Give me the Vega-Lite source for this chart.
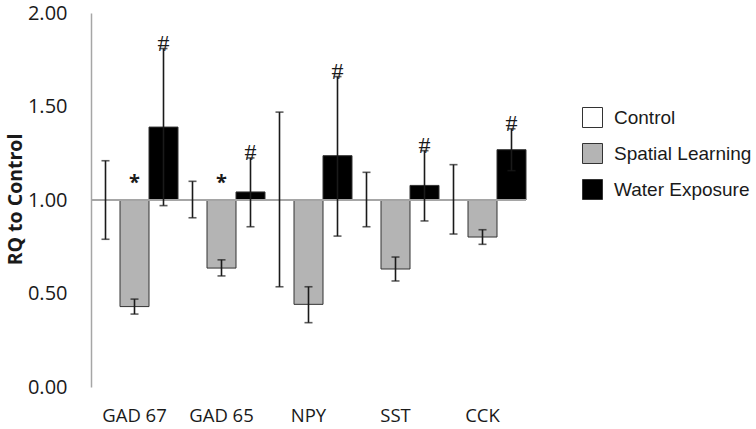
{
  "$schema": "https://vega.github.io/schema/vega-lite/v6.json",
  "width": 435,
  "height": 374,
  "autosize": {"type": "none"},
  "padding": {"left": 91, "top": 13, "right": 230, "bottom": 42},
  "background": "white",
  "config": {"view": {"stroke": null}},
  "data": {"values": [
    {"gene": "GAD 67", "group": "Control", "value": 1, "lo": 0.79, "hi": 1.21, "sig": ""},
    {"gene": "GAD 67", "group": "Spatial Learning", "value": 0.43, "lo": 0.39, "hi": 0.47, "sig": "*"},
    {"gene": "GAD 67", "group": "Water Exposure", "value": 1.39, "lo": 0.97, "hi": 1.81, "sig": "#"},
    {"gene": "GAD 65", "group": "Control", "value": 1, "lo": 0.905, "hi": 1.10, "sig": ""},
    {"gene": "GAD 65", "group": "Spatial Learning", "value": 0.636, "lo": 0.594, "hi": 0.68, "sig": "*"},
    {"gene": "GAD 65", "group": "Water Exposure", "value": 1.043, "lo": 0.857, "hi": 1.225, "sig": "#"},
    {"gene": "NPY", "group": "Control", "value": 1, "lo": 0.536, "hi": 1.47, "sig": ""},
    {"gene": "NPY", "group": "Spatial Learning", "value": 0.442, "lo": 0.344, "hi": 0.536, "sig": ""},
    {"gene": "NPY", "group": "Water Exposure", "value": 1.237, "lo": 0.807, "hi": 1.66, "sig": "#"},
    {"gene": "SST", "group": "Control", "value": 1, "lo": 0.857, "hi": 1.148, "sig": ""},
    {"gene": "SST", "group": "Spatial Learning", "value": 0.631, "lo": 0.567, "hi": 0.695, "sig": ""},
    {"gene": "SST", "group": "Water Exposure", "value": 1.078, "lo": 0.888, "hi": 1.264, "sig": "#"},
    {"gene": "CCK", "group": "Control", "value": 1, "lo": 0.818, "hi": 1.189, "sig": ""},
    {"gene": "CCK", "group": "Spatial Learning", "value": 0.802, "lo": 0.763, "hi": 0.841, "sig": ""},
    {"gene": "CCK", "group": "Water Exposure", "value": 1.269, "lo": 1.157, "hi": 1.381, "sig": "#"}
  ]},
  "encoding": {
    "x": {
      "field": "gene", "type": "nominal",
      "sort": ["GAD 67", "GAD 65", "NPY", "SST", "CCK"],
      "scale": {"paddingInner": 0, "paddingOuter": 0},
      "axis": {
        "title": null, "domain": false, "ticks": false, "labelAngle": 0,
        "labelFont": "Open Sans", "labelFontSize": 18.5, "labelColor": "#1a1a1a",
        "labelPadding": 19
      }
    },
    "xOffset": {
      "field": "group", "type": "nominal",
      "sort": ["Control", "Spatial Learning", "Water Exposure"],
      "scale": {"paddingInner": 0, "paddingOuter": 0}
    }
  },
  "layer": [
    {
      "mark": {"type": "bar"},
      "encoding": {
        "y": {
          "field": "value", "type": "quantitative",
          "scale": {"domain": [0, 2], "nice": false, "zero": false},
          "axis": {
            "values": [0, 0.5, 1, 1.5, 2], "format": ".2f", "grid": false, "ticks": false,
            "domainColor": "#a6a6a6", "domainWidth": 1.5,
            "labelFont": "Open Sans", "labelFontSize": 20, "labelColor": "#1a1a1a", "labelPadding": 24,
            "title": "RQ to Control", "titleFont": "Open Sans", "titleFontSize": 19.5, "titleFontWeight": "bold",
            "titleColor": "#1a1a1a", "titleX": -76, "titleY": 186, "titleAngle": -90,
            "titleAlign": "center", "titleBaseline": "middle"
          }
        },
        "y2": {"datum": 1},
        "color": {
          "field": "group", "type": "nominal",
          "sort": ["Control", "Spatial Learning", "Water Exposure"],
          "scale": {"domain": ["Control", "Spatial Learning", "Water Exposure"], "range": ["#ffffff", "#b4b4b4", "#000000"]},
          "legend": {
            "title": null, "orient": "none", "legendX": 491, "legendY": 94,
            "symbolType": "square", "symbolSize": 400, "symbolStrokeColor": "#333333", "symbolStrokeWidth": 1,
            "labelFont": "Liberation Sans", "labelFontSize": 19, "labelColor": "#1a1a1a",
            "rowPadding": 11, "labelOffset": 11
          }
        },
        "stroke": {"value": "#333333"},
        "strokeWidth": {"condition": {"test": "datum.group === 'Control'", "value": 0}, "value": 1}
      }
    },
    {
      "mark": {"type": "rule", "color": "#a6a6a6", "strokeWidth": 1.5},
      "encoding": {"y": {"datum": 1}, "x": null, "xOffset": null}
    },
    {
      "mark": {"type": "rule", "color": "#1a1a1a", "strokeWidth": 1.6},
      "encoding": {"y": {"field": "lo", "type": "quantitative"}, "y2": {"field": "hi"}}
    },
    {
      "mark": {"type": "tick", "color": "#1a1a1a", "size": 8, "thickness": 1.6, "orient": "horizontal"},
      "encoding": {"y": {"field": "lo", "type": "quantitative"}}
    },
    {
      "mark": {"type": "tick", "color": "#1a1a1a", "size": 8, "thickness": 1.6, "orient": "horizontal"},
      "encoding": {"y": {"field": "hi", "type": "quantitative"}}
    },
    {
      "transform": [{"filter": "datum.sig === '#'"}],
      "mark": {"type": "text", "font": "Liberation Serif", "fontSize": 24, "baseline": "alphabetic", "dy": 2, "color": "#1a1a1a"},
      "encoding": {"y": {"field": "hi", "type": "quantitative"}, "text": {"field": "sig"}}
    },
    {
      "transform": [{"filter": "datum.sig === '*'"}],
      "mark": {"type": "text", "font": "Open Sans", "fontSize": 20, "fontWeight": "bold", "baseline": "middle", "dy": -17, "color": "#1a1a1a"},
      "encoding": {"y": {"datum": 1}, "text": {"field": "sig"}}
    }
  ]
}
